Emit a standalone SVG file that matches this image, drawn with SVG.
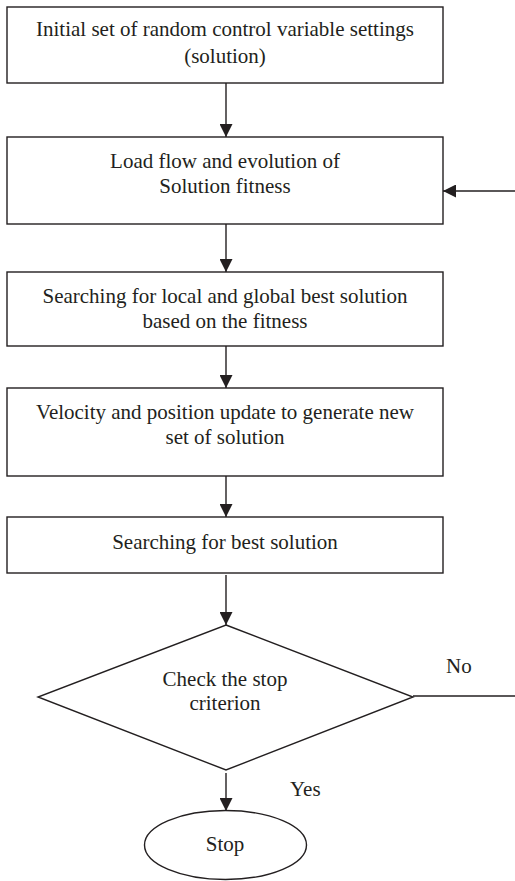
<svg xmlns="http://www.w3.org/2000/svg" width="515" height="881" viewBox="0 0 515 881">
<defs>
<marker id="ah" viewBox="0 0 10 10" refX="10" refY="5" markerWidth="13" markerHeight="13" markerUnits="userSpaceOnUse" orient="auto">
<path d="M0,0 L10,5 L0,10 z" fill="#231f20"/>
</marker>
<style>
.box{fill:#fff;stroke:#231f20;stroke-width:1.4}
.t{font-family:"Liberation Serif","Times New Roman",serif;font-size:21px;fill:#231f20;text-anchor:middle}
.tl{font-family:"Liberation Serif","Times New Roman",serif;font-size:21px;fill:#231f20}
.c{fill:none;stroke:#231f20;stroke-width:1.4}
</style>
</defs>
<rect width="515" height="881" fill="#fff"/>
<g id="n1"><rect class="box" x="7" y="7" width="436" height="76"/>
<text class="t" x="225" y="36">Initial set of random control variable settings</text>
<text class="t" x="225" y="63">(solution)</text></g>
<g id="n2"><rect class="box" x="7" y="137" width="436" height="87"/>
<text class="t" x="225" y="168">Load flow and evolution of</text>
<text class="t" x="225" y="193">Solution fitness</text></g>
<g id="n3"><rect class="box" x="7" y="272" width="436" height="74"/>
<text class="t" x="225" y="303">Searching for local and global best solution</text>
<text class="t" x="225" y="328">based on the fitness</text></g>
<g id="n4"><rect class="box" x="7" y="388" width="436" height="88"/>
<text class="t" x="225" y="419">Velocity and position update to generate new</text>
<text class="t" x="225" y="444">set of solution</text></g>
<g id="n5"><rect class="box" x="7" y="517" width="436" height="56"/>
<text class="t" x="225" y="549">Searching for best solution</text></g>
<g id="n6"><polygon class="box" points="226,625 413,697 226,770 38,697"/>
<text class="t" x="225" y="686">Check the stop</text>
<text class="t" x="225" y="710">criterion</text></g>
<g id="n7"><ellipse class="box" cx="225.5" cy="845" rx="81" ry="34.5"/>
<text class="t" x="225" y="851">Stop</text></g>
<g id="edges">
<line class="c" x1="226" y1="83" x2="226" y2="137" marker-end="url(#ah)"/>
<line class="c" x1="226" y1="224" x2="226" y2="272" marker-end="url(#ah)"/>
<line class="c" x1="226" y1="346" x2="226" y2="388" marker-end="url(#ah)"/>
<line class="c" x1="226" y1="476" x2="226" y2="517" marker-end="url(#ah)"/>
<line class="c" x1="226" y1="575" x2="226" y2="625" marker-end="url(#ah)"/>
<line class="c" x1="226" y1="773" x2="226" y2="811" marker-end="url(#ah)"/>
<line class="c" x1="413" y1="696" x2="515" y2="696"/>
<line class="c" x1="515" y1="191" x2="443" y2="191" marker-end="url(#ah)"/>
<text class="tl" x="446" y="673">No</text>
<text class="tl" x="290" y="796">Yes</text>
</g>
</svg>
